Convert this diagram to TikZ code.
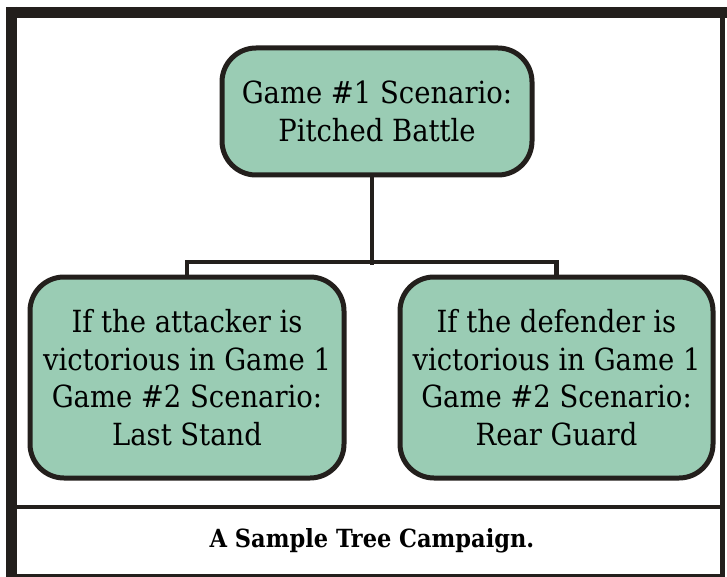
\documentclass[tikz,border=0pt]{standalone}
\usepackage{fontspec}
\setmainfont{DejaVu Serif Condensed}
\usetikzlibrary{calc}
\definecolor{mint}{RGB}{154,204,180}
\definecolor{ink}{RGB}{35,31,28}
\tikzset{
	scenbox/.style={draw=ink, fill=mint, line width=5pt, rounded corners=34pt, align=center, inner sep=0pt, font=\fontsize{30.5}{37.5}\selectfont},
	branch/.style={draw=ink, line width=4.5pt}
}
\begin{document}
\begin{tikzpicture}[x=1pt, y=-1pt]
		%%%%% START %%%%%
		\useasboundingbox (0, 0) rectangle (727, 577);
		
		% frame
		\draw[ink, line width=11pt] (6, 12.5) -- (727, 12.5);
		\draw[ink, line width=11pt] (11.5, 7) -- (11.5, 577);
		\draw[ink, line width=4.5pt] (722.5, 7) -- (722.5, 577);
		\draw[ink, line width=4pt] (6, 507) -- (725, 507);
		\draw[ink, line width=3pt] (6, 575) -- (725, 575);
		
		% scenario boxes
		\node[scenbox, minimum width=310pt, minimum height=127pt] (game1) at (377, 111.5) {Game \#1 Scenario:\\Pitched Battle};
		\node[scenbox, minimum width=314pt, minimum height=201pt] (attack) at (187, 377.5) {If the attacker is\\victorious in Game 1\\Game \#2 Scenario:\\Last Stand};
		\node[scenbox, minimum width=313pt, minimum height=201pt] (defend) at (556.5, 377.5) {If the defender is\\victorious in Game 1\\Game \#2 Scenario:\\Rear Guard};
		
		% tree
		\coordinate (fork) at (372, 264.5);
		\draw[branch] (game1.south -| fork) -- (fork);
		\draw[branch] (attack.north) -- ++(0, -12.5) -- ($(defend.north) + (0, -12.5)$) -- (defend.north);
		
		% caption
		\node[font=\fontsize{25}{28}\selectfont\bfseries] (caption) at (372, 541) {A Sample Tree Campaign.};
		
		%%%%% END %%%%%
	\end{tikzpicture}
\end{document}
